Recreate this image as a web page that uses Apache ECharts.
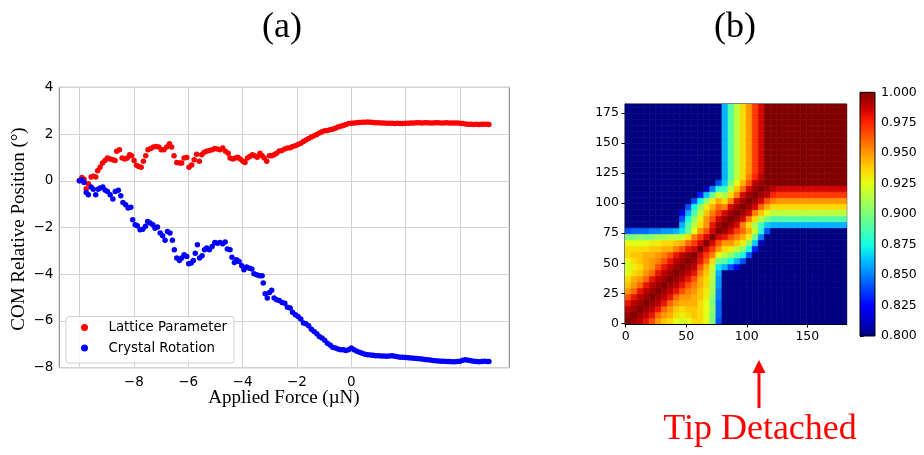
<!DOCTYPE html>
<html><head><meta charset="utf-8">
<script src="https://cdn.jsdelivr.net/npm/echarts@6/dist/echarts.min.js"></script>
<style>html,body{margin:0;padding:0;background:#fff}#c{width:924px;height:455px}</style>
</head><body><div id="c"></div>
<script>
// ---------- Panel (a) data: [applied force (µN), COM relative position (°)] ----------
const latticePoints = [
[-10,0],[-9.91,0.14],[-9.83,0.07],[-9.75,-0.34],[-9.67,-0.13],[-9.57,0.16],[-9.49,0.19],[-9.40,0.16],[-9.33,0.43],[-9.24,0.58],
[-9.15,0.76],[-9.06,0.87],[-8.97,0.97],[-8.87,0.93],[-8.77,0.90],[-8.69,0.87],[-8.63,1.26],[-8.53,1.33],[-8.43,0.97],[-8.33,0.93],
[-8.24,0.97],[-8.15,1.11],[-8.08,1.07],[-7.99,0.87],[-7.90,0.66],[-7.82,0.61],[-7.73,0.58],[-7.65,0.83],[-7.56,1.07],[-7.48,1.33],
[-7.38,1.38],[-7.28,1.44],[-7.18,1.47],[-7.08,1.44],[-6.99,1.33],[-6.89,1.33],[-6.79,1.44],[-6.69,1.58],[-6.61,1.44],[-6.52,1.07],
[-6.42,0.78],[-6.32,0.76],[-6.24,0.76],[-6.15,0.97],[-6.05,1.00],[-5.97,0.58],[-5.87,0.68],[-5.78,0.90],[-5.69,1.14],[-5.59,0.83],
[-5.50,1.11],[-5.42,1.21],[-5.32,1.26],[-5.22,1.30],[-5.12,1.33],[-5.02,1.38],[-4.93,1.36],[-4.83,1.33],[-4.73,1.40],[-4.63,1.26],
[-4.53,1.18],[-4.46,0.97],[-4.36,0.93],[-4.26,0.97],[-4.18,1.01],[-4.09,0.93],[-3.99,0.83],[-3.91,0.78],[-3.82,0.97],[-3.73,1.04],
[-3.64,1.11],[-3.55,1.07],[-3.46,1.01],[-3.36,1.18],[-3.28,1.07],[-3.20,0.97],[-3.11,0.83],[-3.01,1.07],[-2.93,1.07],[-2.84,1.11],
[-2.75,1.18],[-2.65,1.27],[-2.55,1.30],[-2.45,1.36],[-2.35,1.40],[-2.25,1.41],[-2.16,1.47],[-2.06,1.50],[-1.96,1.55],[-1.86,1.61],
[-1.76,1.68],[-1.67,1.75],[-1.57,1.81],[-1.47,1.87],[-1.37,1.93],[-1.27,1.98],[-1.18,2.04],[-1.08,2.10],[-0.98,2.14],[-0.88,2.15],
[-0.78,2.18],[-0.69,2.21],[-0.59,2.25],[-0.49,2.30],[-0.39,2.33],[-0.29,2.37],[-0.20,2.41],[-0.10,2.45],[0,2.46],[0.1,2.47],
[0.2,2.48],[0.3,2.49],[0.4,2.50],[0.5,2.50],[0.6,2.51],[0.7,2.50],[0.8,2.49],[0.9,2.48],[1.0,2.48],[1.1,2.47],
[1.2,2.47],[1.3,2.46],[1.4,2.46],[1.5,2.46],[1.6,2.45],[1.7,2.46],[1.8,2.45],[1.9,2.45],[2.0,2.46],[2.1,2.46],
[2.2,2.47],[2.3,2.47],[2.4,2.48],[2.5,2.48],[2.6,2.47],[2.7,2.48],[2.8,2.48],[2.9,2.47],[3.0,2.47],[3.1,2.48],
[3.2,2.48],[3.3,2.47],[3.4,2.47],[3.5,2.48],[3.6,2.47],[3.7,2.47],[3.8,2.47],[3.9,2.47],[4.0,2.46],[4.1,2.45],
[4.2,2.43],[4.3,2.42],[4.4,2.42],[4.5,2.41],[4.6,2.42],[4.7,2.41],[4.8,2.42],[4.9,2.42],[5.0,2.42],[5.06,2.41]
];
const rotationPoints = [
[-10,0],[-9.91,0.04],[-9.83,-0.07],[-9.75,-0.50],[-9.67,-0.60],[-9.57,-0.27],[-9.49,-0.36],[-9.40,-0.60],[-9.31,-0.36],[-9.24,-0.31],
[-9.14,-0.27],[-9.06,-0.39],[-8.97,-0.46],[-8.87,-0.60],[-8.77,-0.78],[-8.68,-0.46],[-8.57,-0.41],[-8.48,-0.64],[-8.40,-0.93],[-8.30,-1.03],
[-8.21,-1.17],[-8.11,-1.13],[-8.04,-1.67],[-7.95,-1.88],[-7.87,-1.93],[-7.77,-2.10],[-7.67,-2.07],[-7.57,-1.95],[-7.49,-1.74],[-7.40,-1.81],
[-7.30,-1.88],[-7.22,-2.03],[-7.13,-1.98],[-7.03,-2.24],[-6.94,-2.35],[-6.85,-2.55],[-6.76,-2.17],[-6.67,-2.24],[-6.58,-2.55],[-6.51,-2.95],
[-6.42,-3.31],[-6.32,-3.41],[-6.24,-3.31],[-6.15,-3.17],[-6.05,-3.24],[-5.98,-3.55],[-5.89,-3.52],[-5.81,-3.41],[-5.74,-3.10],[-5.66,-2.74],
[-5.58,-3.31],[-5.49,-3.21],[-5.40,-2.95],[-5.32,-2.88],[-5.22,-2.95],[-5.12,-2.81],[-5.02,-2.64],[-4.93,-2.67],[-4.83,-2.64],[-4.73,-2.70],
[-4.64,-2.62],[-4.56,-2.92],[-4.46,-2.95],[-4.39,-3.27],[-4.30,-3.50],[-4.22,-3.38],[-4.13,-3.45],[-4.03,-3.64],[-3.95,-3.81],[-3.85,-3.69],
[-3.75,-3.74],[-3.66,-3.78],[-3.58,-3.98],[-3.48,-4.02],[-3.38,-4.07],[-3.28,-4.07],[-3.24,-4.38],[-3.17,-4.84],[-3.09,-5.02],[-3.01,-4.78],
[-2.93,-4.69],[-2.84,-5.02],[-2.75,-5.09],[-2.65,-5.12],[-2.55,-5.21],[-2.45,-5.24],[-2.35,-5.41],[-2.25,-5.45],[-2.16,-5.63],[-2.06,-5.73],
[-1.96,-5.81],[-1.86,-5.92],[-1.76,-6.09],[-1.67,-6.12],[-1.57,-6.21],[-1.47,-6.35],[-1.37,-6.45],[-1.27,-6.55],[-1.18,-6.66],[-1.08,-6.73],
[-0.98,-6.83],[-0.88,-6.95],[-0.78,-7.03],[-0.69,-7.12],[-0.59,-7.16],[-0.49,-7.20],[-0.39,-7.23],[-0.29,-7.23],[-0.20,-7.26],[-0.10,-7.23],
[0,-7.16],[0.1,-7.23],[0.2,-7.30],[0.3,-7.34],[0.4,-7.38],[0.5,-7.42],[0.6,-7.45],[0.7,-7.46],[0.8,-7.47],[0.9,-7.49],
[1.0,-7.49],[1.1,-7.50],[1.2,-7.50],[1.3,-7.51],[1.4,-7.50],[1.5,-7.49],[1.6,-7.51],[1.7,-7.53],[1.8,-7.55],[1.9,-7.55],
[2.0,-7.56],[2.1,-7.57],[2.2,-7.59],[2.3,-7.60],[2.4,-7.61],[2.5,-7.62],[2.6,-7.63],[2.7,-7.65],[2.8,-7.66],[2.9,-7.67],
[3.0,-7.69],[3.1,-7.70],[3.2,-7.71],[3.3,-7.72],[3.4,-7.72],[3.5,-7.73],[3.6,-7.74],[3.7,-7.75],[3.8,-7.75],[3.9,-7.74],
[4.0,-7.72],[4.1,-7.68],[4.2,-7.66],[4.3,-7.68],[4.4,-7.70],[4.5,-7.72],[4.6,-7.73],[4.7,-7.75],[4.8,-7.73],[4.9,-7.72],
[5.0,-7.73],[5.06,-7.74]
];
const forceGridValues = [-10,-8,-6,-4,-2,0,2,4];
const forceLabelValues = [-8,-6,-4,-2,0];

// ---------- Panel (b) data: similarity matrix, 5-frame cells, values in percent, rows from frame 0 upward ----------
const frameCount = 183;
const cellFrames = 5;
const frameTicksX = [0,50,100,150];
const frameTicksY = [0,25,50,75,100,125,150,175];
const similarityRows = [
[100,99.5,99,98,96.5,95,94,93.5,92.5,92,92.5,93.5,93.5,92.5,90,84,78,78,78,78,78,78,78,78,78,78,78,78,78,78,78,78,78,78,78,78,78],
[99.5,100,99.5,99,98,96,95,94.5,93.5,93,93.5,94,93.5,92.5,90,84.5,78,78,78,78,78,78,78,78,78,78,78,78,78,78,78,78,78,78,78,78,78],
[99,99.5,100,99.5,99,98,96,95,94,93.5,94,94,93.5,92.5,90.5,84.5,78,78,78,78,78,78,78,78,78,78,78,78,78,78,78,78,78,78,78,78,78],
[98,99,99.5,100,99.5,99,98,96,95,94.5,94.5,94.5,93.5,92.5,90,84.5,78,78,78,78,78,78,78,78,78,78,78,78,78,78,78,78,78,78,78,78,78],
[96.5,98,99,99.5,100,99.5,99,98,96,95,95,94.5,94,93,90.5,85,78,78,78,78,78,78,78,78,78,78,78,78,78,78,78,78,78,78,78,78,78],
[95,96,98,99,99.5,100,99.5,99,98,96.5,95.5,95,94,93,91,85,78,78,78,78,78,78,78,78,78,78,78,78,78,78,78,78,78,78,78,78,78],
[94,95,96,98,99,99.5,100,99.5,99,98,96.5,95.5,94.5,93.5,91,85.5,78,78,78,78,78,78,78,78,78,78,78,78,78,78,78,78,78,78,78,78,78],
[93.5,94.5,95,96,98,99,99.5,100,99.5,99,98,96.5,94.5,93.5,91.5,85.5,78,78,78,78,78,78,78,78,78,78,78,78,78,78,78,78,78,78,78,78,78],
[92.5,93.5,94,95,96,98,99,99.5,100,99.5,99,98,95.5,94,91.5,86,80,78,78,78,78,78,78,78,78,78,78,78,78,78,78,78,78,78,78,78,78],
[92,93,93.5,94.5,95,96.5,98,99,99.5,100,99.5,99,96.5,94.5,92,87,86,84,82,79,78,78,78,78,78,78,78,78,78,78,78,78,78,78,78,78,78],
[92.5,93.5,94,94.5,95,95.5,96.5,98,99,99.5,100,99.5,98,96,93.5,89.5,89,87.5,86,84,79,78,78,78,78,78,78,78,78,78,78,78,78,78,78,78,78],
[93.5,94,94,94.5,94.5,95,95.5,96.5,98,99,99.5,100,98.5,97,95.5,92.5,91.5,90.5,89,87.5,84,78,78,78,78,78,78,78,78,78,78,78,78,78,78,78,78],
[93.5,93.5,93.5,93.5,94,94,94.5,94.5,95.5,96.5,98,98.5,100,98.5,97,95,93.5,93,91.5,90.5,87.5,83,78,78,78,78,78,78,78,78,78,78,78,78,78,78,78],
[92.5,92.5,92.5,92.5,93,93,93.5,93.5,94,94.5,96,97,98.5,100,98.5,96.5,95,95,94,93,90.5,86.5,81,78,78,78,78,78,78,78,78,78,78,78,78,78,78],
[90,90,90.5,90,90.5,91,91,91.5,91.5,92,93.5,95.5,97,98.5,100,98.5,98,96.5,95.5,94.5,93,89.5,85,80,78,78,78,78,78,78,78,78,78,78,78,78,78],
[84,84.5,84.5,84.5,85,85,85.5,85.5,86,87,89.5,92.5,95,96.5,98.5,100,99.5,98.5,97,96,94.5,92,88,84,80,78,78,78,78,78,78,78,78,78,78,78,78],
[78,78,78,78,78,78,78,78,80,86,89,91.5,93.5,95,98,99.5,100,99.5,98.5,95.5,93.5,91,88.5,86.5,86,86,86,86,86,86,86,86,86,86,86,86,86],
[78,78,78,78,78,78,78,78,78,84,87.5,90.5,93,95,96.5,98.5,99.5,100,99.5,98.5,95.5,93.5,91.5,90,89,89,89,89,89,89,89,89,89,89,89,89,89],
[78,78,78,78,78,78,78,78,78,82,86,89,91.5,94,95.5,97,98.5,99.5,100,99.5,98.5,95.5,94,92.5,91.5,91.5,91.5,91.5,91.5,91.5,91.5,91.5,91.5,91.5,91.5,91.5,91.5],
[78,78,78,78,78,78,78,78,78,79,84,87.5,90.5,93,94.5,96,95.5,98.5,99.5,100,99.5,98.5,96,94.5,93.5,93.5,93.5,93.5,93.5,93.5,93.5,93.5,93.5,93.5,93.5,93.5,93.5],
[78,78,78,78,78,78,78,78,78,78,79,84,87.5,90.5,93,94.5,93.5,95.5,98.5,99.5,100,99.5,98.5,96.5,95.5,95,95,95,95,95,95,95,95,95,95,95,95],
[78,78,78,78,78,78,78,78,78,78,78,78,83,86.5,89.5,92,91,93.5,95.5,98.5,99.5,100,99.5,99,97.5,97,97,97,97,97,97,97,97,97,97,97,97],
[78,78,78,78,78,78,78,78,78,78,78,78,78,81,85,88,88.5,91.5,94,96,98.5,99.5,100,99.5,99,98.5,98.5,98.5,98.5,98.5,98.5,98.5,98.5,98.5,98.5,98.5,98.5],
[78,78,78,78,78,78,78,78,78,78,78,78,78,78,80,84,86.5,90,92.5,94.5,96.5,99,99.5,100,100,100,100,100,100,100,100,100,100,100,100,100,100],
[78,78,78,78,78,78,78,78,78,78,78,78,78,78,78,80,86,89,91.5,93.5,95.5,97.5,99,100,100,100,100,100,100,100,100,100,100,100,100,100,100],
[78,78,78,78,78,78,78,78,78,78,78,78,78,78,78,78,86,89,91.5,93.5,95,97,98.5,100,100,100,100,100,100,100,100,100,100,100,100,100,100],
[78,78,78,78,78,78,78,78,78,78,78,78,78,78,78,78,86,89,91.5,93.5,95,97,98.5,100,100,100,100,100,100,100,100,100,100,100,100,100,100],
[78,78,78,78,78,78,78,78,78,78,78,78,78,78,78,78,86,89,91.5,93.5,95,97,98.5,100,100,100,100,100,100,100,100,100,100,100,100,100,100],
[78,78,78,78,78,78,78,78,78,78,78,78,78,78,78,78,86,89,91.5,93.5,95,97,98.5,100,100,100,100,100,100,100,100,100,100,100,100,100,100],
[78,78,78,78,78,78,78,78,78,78,78,78,78,78,78,78,86,89,91.5,93.5,95,97,98.5,100,100,100,100,100,100,100,100,100,100,100,100,100,100],
[78,78,78,78,78,78,78,78,78,78,78,78,78,78,78,78,86,89,91.5,93.5,95,97,98.5,100,100,100,100,100,100,100,100,100,100,100,100,100,100],
[78,78,78,78,78,78,78,78,78,78,78,78,78,78,78,78,86,89,91.5,93.5,95,97,98.5,100,100,100,100,100,100,100,100,100,100,100,100,100,100],
[78,78,78,78,78,78,78,78,78,78,78,78,78,78,78,78,86,89,91.5,93.5,95,97,98.5,100,100,100,100,100,100,100,100,100,100,100,100,100,100],
[78,78,78,78,78,78,78,78,78,78,78,78,78,78,78,78,86,89,91.5,93.5,95,97,98.5,100,100,100,100,100,100,100,100,100,100,100,100,100,100],
[78,78,78,78,78,78,78,78,78,78,78,78,78,78,78,78,86,89,91.5,93.5,95,97,98.5,100,100,100,100,100,100,100,100,100,100,100,100,100,100],
[78,78,78,78,78,78,78,78,78,78,78,78,78,78,78,78,86,89,91.5,93.5,95,97,98.5,100,100,100,100,100,100,100,100,100,100,100,100,100,100],
[78,78,78,78,78,78,78,78,78,78,78,78,78,78,78,78,86,89,91.5,93.5,95,97,98.5,100,100,100,100,100,100,100,100,100,100,100,100,100,100]
];

// ---------- styling ----------
const jetColors = ['#000080','#0000C8','#0000FF','#0040FF','#0080FF','#00BFFF','#14FFE2','#48FFAF','#7BFF7B','#AFFF48','#E2FF14','#FFD200','#FF9700','#FF5C00','#FF2100','#C80000','#800000'];
const sans = 'DejaVu Sans';
const minus = v => String(v).replace('-', '\u2212');

const heatData = [];
similarityRows.forEach((row, r) => row.forEach((v, c) => heatData.push([c * cellFrames, r * cellFrames, v / 100])));

const chart = echarts.init(document.getElementById('c'), null, {renderer: 'canvas'});
const option = {
  animation: false,
  backgroundColor: '#fff',
  grid: [
    {left: 59.3, top: 87.3, width: 450, height: 280.4, show: true, borderColor: '#7f7f7f', borderWidth: 1, backgroundColor: 'transparent'},
    {left: 625, top: 104, width: 221.7, height: 220, show: true, borderColor: '#000', borderWidth: 1, backgroundColor: 'transparent'},
    {left: 860, top: 92.3, width: 15, height: 243.7, show: false}
  ],
  xAxis: [
    {gridIndex: 0, type: 'value', min: -10.74, max: 5.81,
     axisLine: {show: false}, axisTick: {show: false, customValues: forceGridValues},
     axisLabel: {customValues: forceLabelValues, formatter: minus, fontFamily: sans, fontSize: 13.5, color: '#000', margin: 8},
     splitLine: {show: true, lineStyle: {color: '#d2d2d2', width: 1}}},
    {gridIndex: 1, type: 'value', min: -0.5, max: frameCount - 0.5,
     axisLine: {show: true, onZero: false, lineStyle: {color: '#000'}},
     axisTick: {show: true, customValues: frameTicksX, length: 3.5, lineStyle: {color: '#000'}},
     axisLabel: {customValues: frameTicksX, fontFamily: sans, fontSize: 12.5, color: '#000', margin: 6},
     splitLine: {show: false}},
    {gridIndex: 2, type: 'value', min: 0, max: 1, show: false}
  ],
  yAxis: [
    {gridIndex: 0, type: 'value', min: -8, max: 4, interval: 2,
     axisLine: {show: false}, axisTick: {show: false},
     axisLabel: {formatter: minus, fontFamily: sans, fontSize: 13.5, color: '#000', margin: 6},
     splitLine: {show: true, lineStyle: {color: '#d2d2d2', width: 1}}},
    {gridIndex: 1, type: 'value', min: -0.5, max: frameCount - 0.5,
     axisLine: {show: true, onZero: false, lineStyle: {color: '#000'}},
     axisTick: {show: true, customValues: frameTicksY, length: 3.5, lineStyle: {color: '#000'}},
     axisLabel: {customValues: frameTicksY, fontFamily: sans, fontSize: 12.5, color: '#000', margin: 6},
     splitLine: {show: false}},
    {gridIndex: 2, type: 'value', min: 0.8, max: 1.0, interval: 0.025, position: 'right',
     axisLine: {show: false}, axisTick: {show: true, length: 3.5, lineStyle: {color: '#000'}},
     axisLabel: {formatter: v => v.toFixed(3), fontFamily: sans, fontSize: 12.5, color: '#000', margin: 6},
     splitLine: {show: false}}
  ],
  visualMap: {type: 'continuous', min: 0.8, max: 1.0, dimension: 2, seriesIndex: 2, show: false, inRange: {color: jetColors}},
  legend: {
    left: 66, top: 316.5, orient: 'vertical', itemGap: 4.6, itemWidth: 38, itemHeight: 7,
    padding: [3, 7, 7, 15], borderColor: '#d0d0d0', borderWidth: 1, borderRadius: 3, backgroundColor: 'rgba(255,255,255,0.85)',
    icon: 'circle', data: ['Lattice Parameter', 'Crystal Rotation'],
    textStyle: {fontFamily: sans, fontSize: 13.3, color: '#000', lineHeight: 16}
  },
  series: [
    {name: 'Lattice Parameter', type: 'scatter', xAxisIndex: 0, yAxisIndex: 0, data: latticePoints, symbolSize: 5.5, itemStyle: {color: '#ff0000', opacity: 1}},
    {name: 'Crystal Rotation', type: 'scatter', xAxisIndex: 0, yAxisIndex: 0, data: rotationPoints, symbolSize: 5.5, itemStyle: {color: '#0000ff', opacity: 1}},
    {name: 'similarity', type: 'custom', xAxisIndex: 1, yAxisIndex: 1, data: heatData, clip: true,
     renderItem: (params, api) => {
       const x0 = api.value(0), y0 = api.value(1);
       const w = Math.min(cellFrames, frameCount - x0), h = Math.min(cellFrames, frameCount - y0);
       const p1 = api.coord([x0 - 0.5, y0 - 0.5 + h]);
       const p2 = api.coord([x0 - 0.5 + w, y0 - 0.5]);
       const col = api.visual('color');
       return {type: 'rect', shape: {x: p1[0], y: p1[1], width: p2[0] - p1[0], height: p2[1] - p1[1]},
               style: {fill: col, stroke: col, lineWidth: 0.6}};
     }},
    {name: 'colorbar', type: 'custom', xAxisIndex: 2, yAxisIndex: 2, data: [[0, 0.8, 1, 1.0]],
     renderItem: (params, api) => {
       const p1 = api.coord([api.value(0), api.value(3)]);
       const p2 = api.coord([api.value(2), api.value(1)]);
       const stops = jetColors.slice().reverse().map((c, i, a) => ({offset: i / (a.length - 1), color: c}));
       return {type: 'rect', shape: {x: p1[0], y: p1[1], width: p2[0] - p1[0], height: p2[1] - p1[1]},
               style: {fill: new echarts.graphic.LinearGradient(0, 0, 0, 1, stops), stroke: '#000', lineWidth: 1}};
     }}
  ],
  graphic: [
    {type: 'text', x: 282, y: 28, style: {text: '(a)', font: '36px "Liberation Serif"', fill: '#000', align: 'center', verticalAlign: 'middle'}},
    {type: 'text', x: 735, y: 28, style: {text: '(b)', font: '36px "Liberation Serif"', fill: '#000', align: 'center', verticalAlign: 'middle'}},
    {type: 'text', x: 284, y: 398, style: {text: 'Applied Force (\u00b5N)', font: '19px "Liberation Serif"', fill: '#000', align: 'center', verticalAlign: 'middle'}},
    {type: 'text', x: 19, y: 229, rotation: Math.PI / 2, style: {text: 'COM Relative Position (\u00b0)', font: '19px "Liberation Serif"', fill: '#000', align: 'center', verticalAlign: 'middle'}},
    {type: 'text', x: 760, y: 430, style: {text: 'Tip Detached', font: '36px "Liberation Serif"', fill: '#ff0000', align: 'center', verticalAlign: 'middle'}},
    {type: 'polygon', shape: {points: [[759, 360], [752.5, 373], [765.5, 373]]}, style: {fill: '#ff0000'}},
    {type: 'rect', shape: {x: 757.5, y: 372, width: 3, height: 36}, style: {fill: '#ff0000'}}
  ]
};
chart.setOption(option);
</script>
</body></html>
